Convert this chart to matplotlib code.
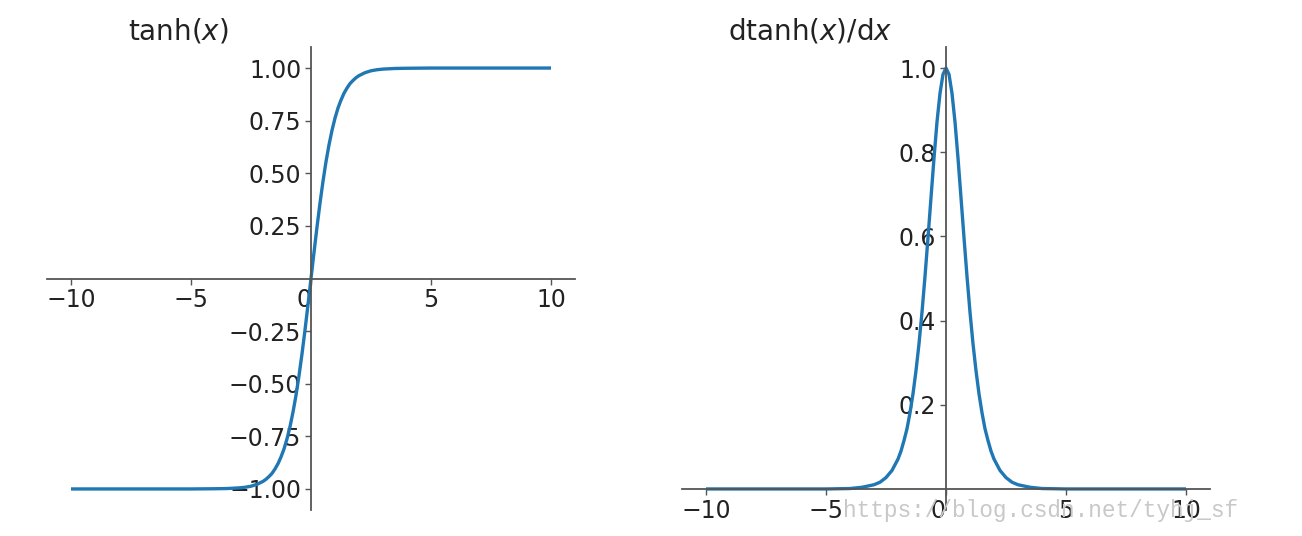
import matplotlib
matplotlib.use("Agg")
import matplotlib.pyplot as plt

# Values
x_tanh = [-10, -8, -6, -5, -4, -3.5, -3, -2.75, -2.5, -2.25, -2,
          -1.875, -1.75, -1.625, -1.5, -1.375, -1.25, -1.125, -1, -0.875,
          -0.75, -0.625, -0.5, -0.375, -0.25, -0.125, 0,
          0.125, 0.25, 0.375, 0.5, 0.625, 0.75, 0.875, 1, 1.125, 1.25,
          1.375, 1.5, 1.625, 1.75, 1.875, 2, 2.25, 2.5, 2.75, 3, 3.5, 4,
          5, 6, 8, 10]
y_tanh = [-1.0, -1.0, -1.0, -1.0, -0.999, -0.998, -0.995, -0.992, -0.987, -0.978, -0.964,
          -0.954, -0.941, -0.926, -0.905, -0.880, -0.848, -0.810, -0.762, -0.704,
          -0.635, -0.555, -0.462, -0.358, -0.245, -0.124, 0.0,
          0.124, 0.245, 0.358, 0.462, 0.555, 0.635, 0.704, 0.762, 0.810, 0.848,
          0.880, 0.905, 0.926, 0.941, 0.954, 0.964, 0.978, 0.987, 0.992, 0.995, 0.998, 0.999,
          1.0, 1.0, 1.0, 1.0]
x_dtanh = list(x_tanh)
y_dtanh = [0.0, 0.0, 0.0, 0.0, 0.001, 0.004, 0.010, 0.016, 0.027, 0.044, 0.071,
           0.090, 0.115, 0.143, 0.181, 0.226, 0.281, 0.345, 0.420, 0.505,
           0.597, 0.692, 0.786, 0.872, 0.940, 0.985, 1.0,
           0.985, 0.940, 0.872, 0.786, 0.692, 0.597, 0.505, 0.420, 0.345, 0.281,
           0.226, 0.181, 0.143, 0.115, 0.090, 0.071, 0.044, 0.027, 0.016, 0.010, 0.004, 0.001,
           0.0, 0.0, 0.0, 0.0]

x_ticks = [-10, -5, 0, 5, 10]
x_ticklabels = ["\u221210", "\u22125", "0", "5", "10"]
left_yticks = [-1.0, -0.75, -0.5, -0.25, 0.25, 0.5, 0.75, 1.0]
left_yticklabels = ["\u22121.00", "\u22120.75", "\u22120.50", "\u22120.25",
                    "0.25", "0.50", "0.75", "1.00"]
right_yticks = [0.2, 0.4, 0.6, 0.8, 1.0]
right_yticklabels = ["0.2", "0.4", "0.6", "0.8", "1.0"]
titles = ["tanh($x$)", "dtanh($x$)/d$x$"]
watermark = "https://blog.csdn.net/tyhj_sf"

W, H = 1302, 536
fig = plt.figure(figsize=(W / 100, H / 100), dpi=100)
fig.patch.set_facecolor("white")

line_color = "#1f77b4"
spine_color = "#555555"
tick_fs = 17

def setup(ax, yticks, ylabels, ylim):
    ax.set_xlim(-11, 11)
    ax.set_ylim(*ylim)
    for s in ["top", "right"]:
        ax.spines[s].set_visible(False)
    ax.spines["left"].set_position(("data", 0))
    ax.spines["bottom"].set_position(("data", 0))
    for s in ["left", "bottom"]:
        ax.spines[s].set_color(spine_color)
        ax.spines[s].set_linewidth(1.3)
    ax.set_xticks(x_ticks)
    ax.set_xticklabels(x_ticklabels)
    ax.set_yticks(yticks)
    ax.set_yticklabels(ylabels)
    ax.tick_params(axis="both", labelsize=tick_fs, colors=spine_color,
                   labelcolor="#222222", length=4, width=1.0)
    ax.tick_params(axis="x", pad=3)
    ax.tick_params(axis="y", pad=3)
    for lbl in ax.get_xticklabels():
        if lbl.get_text() == "0":
            lbl.set_horizontalalignment("right")

ax1 = fig.add_axes([47 / W, 1 - 510 / H, 528 / W, 463 / H])
ax1.plot(x_tanh, y_tanh, color=line_color, lw=2.4, solid_capstyle="butt")
setup(ax1, left_yticks, left_yticklabels, (-1.1, 1.1))

ax2 = fig.add_axes([682 / W, 1 - 510 / H, 528 / W, 463 / H])
ax2.plot(x_dtanh, y_dtanh, color=line_color, lw=2.4, solid_capstyle="butt")
setup(ax2, right_yticks, right_yticklabels, (-0.05, 1.05))

fig.text(128 / W, 1 - 31 / H, titles[0], fontsize=20, ha="left", va="center",
         color="#222222")
fig.text(728 / W, 1 - 31 / H, titles[1], fontsize=20, ha="left", va="center",
         color="#222222")

fig.text(843 / W, 1 - 511 / H, watermark, fontsize=16.4, family="Liberation Mono",
         color="#c8c8c8", ha="left", va="center", zorder=10)

fig.savefig("out.png", dpi=100, facecolor="white")
